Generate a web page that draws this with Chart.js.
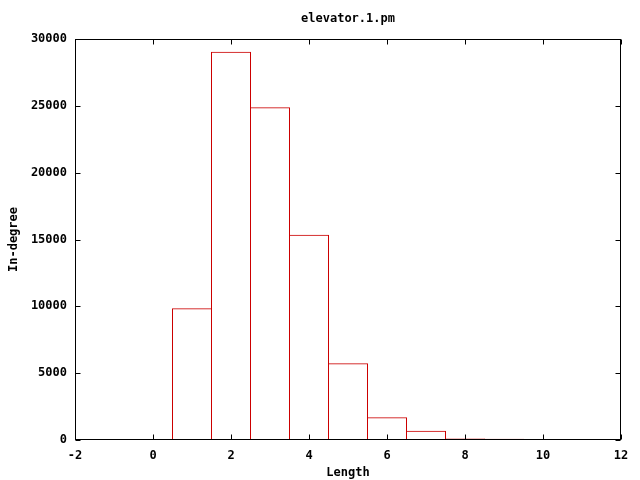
<!DOCTYPE html>
<html>
<head>
<meta charset="utf-8">
<script src="https://cdn.jsdelivr.net/npm/chart.js@4"></script>
<style>
  html, body { margin: 0; padding: 0; background: #fff; }
  #wrap { width: 640px; height: 480px; }
</style>
</head>
<body>
<div id="wrap"><canvas id="chart" width="640" height="480"></canvas></div>
<script>
const chartTitle = 'elevator.1.pm';
const lengths = [1, 2, 3, 4, 5, 6, 7, 8, 9, 10];
const inDegree = [9850, 29050, 24900, 15350, 5750, 1700, 700, 110, 100, 80];
const xTicks = [-2, 0, 2, 4, 6, 8, 10, 12];
const yTicks = [0, 5000, 10000, 15000, 20000, 25000, 30000];

const FONT = { family: '"DejaVu Sans Mono", "Liberation Mono", monospace', size: 12, weight: 'bold' };

// gnuplot style frame: full box, ticks pointing inwards on all four sides, title over plot
const gnuplotFrame = {
  id: 'gnuplotFrame',
  afterDraw(c) {
    const ctx = c.ctx, a = c.chartArea;
    const xs = c.scales.x, ys = c.scales.y;
    const L = Math.round(a.left) + 0.5, R = Math.round(a.right) - 0.5;
    const T = Math.round(a.top) + 0.5, B = Math.round(a.bottom) - 0.5;
    ctx.save();
    ctx.strokeStyle = '#000';
    ctx.lineWidth = 1;
    ctx.strokeRect(L, T, R - L, B - T);
    ctx.beginPath();
    xTicks.forEach(v => {
      const px = Math.round(xs.getPixelForValue(v)) + 0.5;
      ctx.moveTo(px, B); ctx.lineTo(px, B - 5);
      ctx.moveTo(px, T); ctx.lineTo(px, T + 5);
    });
    yTicks.forEach(v => {
      const py = Math.round(ys.getPixelForValue(v)) + 0.5;
      ctx.moveTo(L, py); ctx.lineTo(L + 5, py);
      ctx.moveTo(R, py); ctx.lineTo(R - 5, py);
    });
    ctx.stroke();
    ctx.fillStyle = '#000';
    ctx.font = `${FONT.weight} ${FONT.size}px ${FONT.family}`;
    ctx.textAlign = 'center';
    ctx.textBaseline = 'middle';
    ctx.fillText(chartTitle, (a.left + a.right) / 2, 19);
    ctx.restore();
  }
};

new Chart(document.getElementById('chart'), {
  type: 'bar',
  data: {
    datasets: [{
      data: lengths.map((x, i) => ({ x: x, y: inDegree[i] })),
      backgroundColor: 'rgba(255,255,255,0)',
      borderColor: '#cc0000',
      borderWidth: 1,
      // a hair wider than the 1-unit slot so neighbouring borders land on the same pixel
      barPercentage: 40 / 39,
      categoryPercentage: 1
    }]
  },
  options: {
    responsive: false,
    animation: false,
    devicePixelRatio: 1,
    layout: { padding: { top: 39, right: 19, left: 0, bottom: 0 } },
    plugins: { legend: { display: false }, tooltip: { enabled: false } },
    scales: {
      x: {
        type: 'linear',
        min: -2, max: 12,
        offset: false,
        grid: { display: false, drawTicks: false },
        border: { display: false },
        afterBuildTicks: s => { s.ticks = xTicks.map(v => ({ value: v })); },
        ticks: { color: '#000', font: FONT, padding: 9, maxRotation: 0 },
        title: { display: true, text: 'Length', color: '#000', font: FONT, padding: { top: 4, bottom: 0 } },
        afterFit: s => { s.height = 40; }
      },
      y: {
        min: 0, max: 30000,
        grid: { display: false, drawTicks: false },
        border: { display: false },
        afterBuildTicks: s => { s.ticks = yTicks.map(v => ({ value: v })); },
        ticks: { color: '#000', font: FONT, padding: 8, callback: v => String(v) },
        title: { display: true, text: 'In-degree', color: '#000', font: FONT, padding: { top: 7, bottom: 0 } },
        afterFit: s => { s.width = 75; }
      }
    }
  },
  plugins: [gnuplotFrame]
});
</script>
</body>
</html>
